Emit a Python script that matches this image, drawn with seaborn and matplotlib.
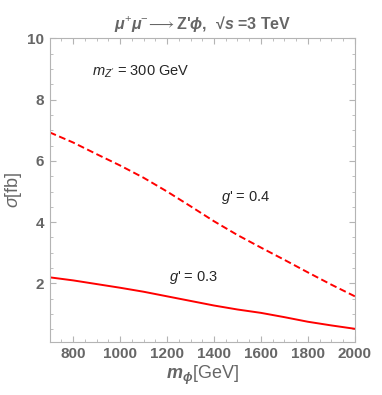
import matplotlib
matplotlib.use("Agg")
import matplotlib.pyplot as plt
import numpy as np
import pandas as pd
import seaborn as sns
from matplotlib.ticker import MultipleLocator

# values
m_phi = [700, 800, 900, 1000, 1100, 1200, 1300, 1400, 1500, 1600, 1700, 1800, 1900, 2000]
sigma_g04 = [6.93, 6.6, 6.22, 5.85, 5.45, 5.0, 4.52, 4.03, 3.58, 3.17, 2.77, 2.36, 1.96, 1.58]
sigma_g03 = [2.2, 2.1, 1.98, 1.86, 1.73, 1.58, 1.43, 1.28, 1.15, 1.04, 0.9, 0.75, 0.63, 0.52]
x_ticks = [800, 1000, 1200, 1400, 1600, 1800, 2000]
y_ticks = [2, 4, 6, 8, 10]

sns.set_style("ticks")
plt.rcParams["font.family"] = ["Liberation Sans", "DejaVu Sans"]
plt.rcParams["mathtext.fontset"] = "custom"
plt.rcParams["mathtext.rm"] = "Liberation Sans"
plt.rcParams["mathtext.it"] = "Liberation Sans:italic"
plt.rcParams["mathtext.bf"] = "Liberation Sans:bold"
plt.rcParams["mathtext.bfit"] = "Liberation Sans:italic:bold"
plt.rcParams["mathtext.fallback"] = "stixsans"

gray = "#666666"
frame = "#b4b4b4"

df = pd.DataFrame({
    "m": m_phi * 2,
    "sigma": sigma_g04 + sigma_g03,
    "g": ["0.4"] * len(m_phi) + ["0.3"] * len(m_phi),
})

fig = plt.figure(figsize=(3.82, 3.95), dpi=100)
ax = fig.add_axes([0.130, 0.135, 0.799, 0.768])

sns.lineplot(data=df, x="m", y="sigma", hue="g", style="g",
             palette={"0.4": "red", "0.3": "red"},
             dashes={"0.4": (3.5, 1.8), "0.3": ""},
             linewidth=1.4, legend=False, ax=ax)

ax.set_xlim(700, 2000)
ax.set_ylim(0.1, 10)
ax.set_xticks(x_ticks)
ax.set_yticks(y_ticks)
ax.xaxis.set_minor_locator(MultipleLocator(50))
ax.yaxis.set_minor_locator(MultipleLocator(0.5))
ax.tick_params(which="both", direction="in", top=True, right=True, color=frame,
               labelcolor=gray, labelsize=11)
ax.tick_params(which="major", length=4, width=0.8, pad=4)
ax.tick_params(which="minor", length=2, width=0.6)
for lab in ax.get_xticklabels() + ax.get_yticklabels():
    lab.set_fontweight("bold")
for sp in ax.spines.values():
    sp.set_color(frame)
    sp.set_linewidth(0.8)

ax.set_xlabel(r"$\mathbfit{m}_{\mathbfit{\phi}}$[GeV]", color=gray, fontsize=13, labelpad=2)
ax.set_ylabel(r"$\sigma$[fb]", color=gray, fontsize=13, labelpad=2)
ax.set_title(r"$\mathbfit{\mu}^{+}\mathbfit{\mu}^{-}\!\longrightarrow$Z'$\mathbfit{\phi}$"
             + ",  \u221a" + r"$\mathbfit{s}$ =3 TeV",
             color=gray, fontsize=11.5, fontweight="bold", pad=7)

ax.text(880, 8.9, r"$m_{Z'}$ = 300 GeV", fontsize=10.5, va="center", ha="left")
ax.text(1430, 4.8, r"$g$' = 0.4", fontsize=10.5, va="center", ha="left")
ax.text(1208, 2.18, r"$g$' = 0.3", fontsize=10.5, va="center", ha="left")

fig.savefig("out.png", dpi=100)
